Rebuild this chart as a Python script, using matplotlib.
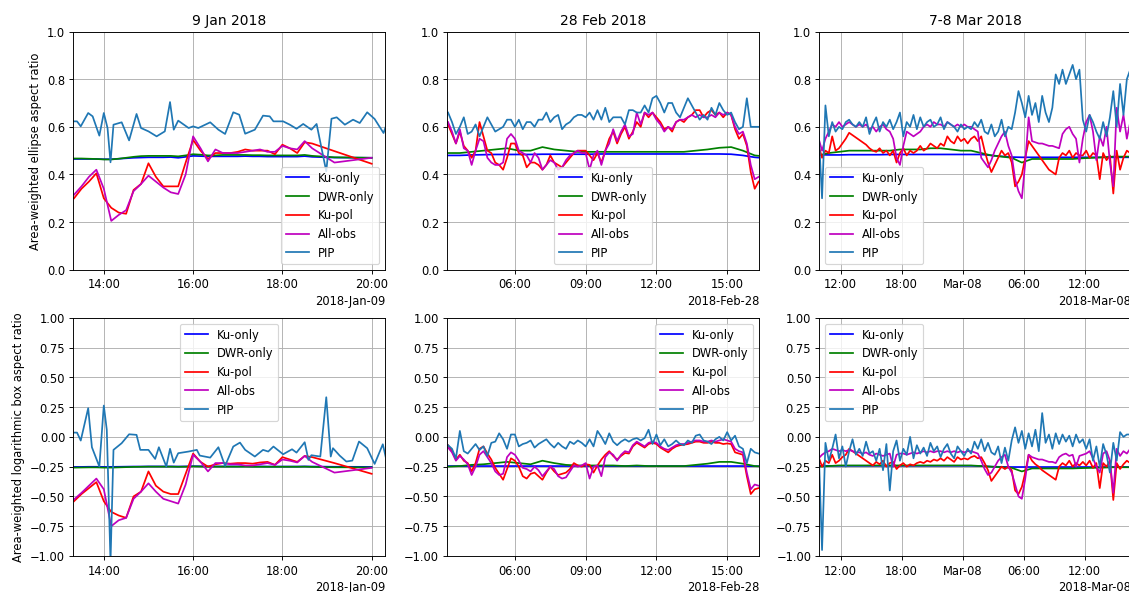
import matplotlib
matplotlib.use("Agg")
import matplotlib.pyplot as plt
import matplotlib.dates as mdates
import pandas as pd

# ---------------- 9 Jan 2018 ----------------
jan_radar_t = ["13:20", "13:30", "13:40", "13:50", "14:00", "14:10",
               "14:20", "14:30", "14:40", "14:50", "15:00", "15:10",
               "15:20", "15:30", "15:40", "15:50", "16:00", "16:10",
               "16:20", "16:30", "16:40", "16:50", "17:00", "17:10",
               "17:20", "17:30", "17:40", "17:50", "18:00", "18:10",
               "18:20", "18:30", "18:40",
               "19:10", "20:00"]
jan_ku_top = [0.465, 0.465, 0.465, 0.465, 0.464, 0.464,
              0.466, 0.468, 0.470, 0.471, 0.472, 0.472,
              0.472, 0.473, 0.470, 0.474, 0.478, 0.477,
              0.476, 0.476, 0.476, 0.476, 0.476, 0.477,
              0.476, 0.476, 0.475, 0.475, 0.475, 0.475,
              0.475, 0.477, 0.474,
              0.471, 0.470]
jan_dwr_top = [0.467, 0.467, 0.466, 0.465, 0.463, 0.463,
               0.466, 0.470, 0.474, 0.477, 0.478, 0.478,
               0.478, 0.478, 0.476, 0.480, 0.485, 0.483,
               0.480, 0.480, 0.482, 0.482, 0.482, 0.482,
               0.481, 0.481, 0.480, 0.480, 0.480, 0.480,
               0.480, 0.482, 0.478,
               0.472, 0.470]
jan_kupol_top = [0.30, 0.34, 0.37, 0.405, 0.30, 0.26,
                 0.24, 0.235, 0.335, 0.36, 0.447, 0.39,
                 0.35, 0.35, 0.35, 0.45, 0.545, 0.50,
                 0.465, 0.49, 0.49, 0.49, 0.495, 0.505,
                 0.50, 0.50, 0.50, 0.485, 0.525, 0.51,
                 0.49, 0.535, 0.53,
                 0.498, 0.445]
jan_all_top = [0.315, 0.35, 0.39, 0.42, 0.34, 0.205,
               0.23, 0.25, 0.33, 0.36, 0.395, 0.37,
               0.345, 0.325, 0.318, 0.40, 0.56, 0.51,
               0.455, 0.505, 0.49, 0.49, 0.49, 0.495,
               0.50, 0.505, 0.495, 0.495, 0.52, 0.51,
               0.505, 0.54, 0.51,
               0.45, 0.47]
jan_ku_bot = [-0.252, -0.252, -0.251, -0.251, -0.252, -0.252,
              -0.251, -0.250, -0.249, -0.249, -0.248, -0.248,
              -0.248, -0.248, -0.249, -0.248, -0.246, -0.247,
              -0.248, -0.248, -0.248, -0.248, -0.248, -0.247,
              -0.248, -0.248, -0.249, -0.249, -0.249, -0.249,
              -0.249, -0.248, -0.249,
              -0.251, -0.252]
jan_dwr_bot = [-0.258, -0.257, -0.256, -0.256, -0.258, -0.258,
               -0.256, -0.254, -0.252, -0.251, -0.250, -0.250,
               -0.250, -0.250, -0.251, -0.250, -0.248, -0.249,
               -0.250, -0.250, -0.250, -0.250, -0.250, -0.250,
               -0.251, -0.251, -0.251, -0.251, -0.251, -0.251,
               -0.251, -0.250, -0.252,
               -0.255, -0.256]
jan_kupol_bot = [-0.54, -0.48, -0.43, -0.38, -0.54, -0.63,
                 -0.66, -0.68, -0.50, -0.46, -0.29, -0.41,
                 -0.46, -0.48, -0.48, -0.31, -0.14, -0.21,
                 -0.25, -0.23, -0.22, -0.225, -0.22, -0.22,
                 -0.225, -0.215, -0.21, -0.235, -0.17, -0.19,
                 -0.21, -0.16, -0.17,
                 -0.22, -0.31]
jan_all_bot = [-0.525, -0.47, -0.41, -0.35, -0.44, -0.75,
               -0.70, -0.68, -0.52, -0.46, -0.39, -0.46,
               -0.52, -0.54, -0.56, -0.40, -0.15, -0.21,
               -0.29, -0.22, -0.22, -0.23, -0.23, -0.24,
               -0.24, -0.23, -0.22, -0.235, -0.19, -0.20,
               -0.215, -0.16, -0.21,
               -0.30, -0.26]

jan_pip_top_t = ["13:19", "13:24", "13:29", "13:39", "13:45", "13:54", "14:00",
                 "14:05", "14:09", "14:13", "14:24", "14:34", "14:44", "14:50",
                 "15:00", "15:11", "15:22", "15:29", "15:34", "15:40", "15:54",
                 "16:00", "16:07", "16:23", "16:34", "16:43", "16:54", "17:02",
                 "17:10", "17:23", "17:34", "17:43", "17:48", "18:01", "18:10",
                 "18:19", "18:28", "18:39", "18:46", "18:59", "19:06", "19:13",
                 "19:24", "19:35", "19:44", "19:54", "20:04", "20:16", "20:20"]
jan_pip_top = [0.623, 0.623, 0.602, 0.658, 0.644, 0.563, 0.658,
               0.595, 0.451, 0.609, 0.619, 0.543, 0.654, 0.595,
               0.581, 0.560, 0.581, 0.704, 0.588, 0.626, 0.595,
               0.602, 0.595, 0.619, 0.588, 0.570, 0.661, 0.651,
               0.571, 0.588, 0.647, 0.644, 0.623, 0.623, 0.609,
               0.592, 0.612, 0.588, 0.612, 0.413, 0.634, 0.640,
               0.609, 0.630, 0.616, 0.661, 0.633, 0.574, 0.610]
jan_pip_bot_t = ["13:19", "13:24", "13:29", "13:39", "13:44", "13:54", "14:00",
                 "14:04", "14:09", "14:13", "14:24", "14:34", "14:44", "14:49",
                 "15:00", "15:09", "15:14", "15:24", "15:29", "15:34", "15:40",
                 "15:54", "16:05", "16:09", "16:23", "16:34", "16:43", "16:54",
                 "17:03", "17:10", "17:23", "17:34", "17:41", "17:48", "18:01",
                 "18:13", "18:19", "18:30", "18:35", "18:39", "18:51", "18:59",
                 "19:05", "19:08", "19:17", "19:26", "19:34", "19:43", "19:54",
                 "20:04", "20:15", "20:20"]
jan_pip_bot = [0.036, 0.036, -0.031, 0.241, -0.087, -0.249, 0.263,
               0.059, -1.05, -0.109, -0.053, 0.022, 0.017, -0.109,
               -0.109, -0.185, -0.087, -0.249, -0.100, -0.216, -0.137,
               -0.123, -0.109, -0.157, -0.174, -0.087, -0.244, -0.081,
               -0.048, -0.109, -0.165, -0.109, -0.123, -0.081, -0.146,
               -0.104, -0.132, -0.045, -0.193, -0.154, -0.165, 0.333,
               -0.165, -0.095, -0.157, -0.207, -0.199, -0.039, -0.095,
               -0.227, -0.062, -0.200]

# ---------------- 28 Feb 2018 (10 min from 03:10) ----------------
feb_pip_top = [0.66, 0.62, 0.57, 0.60, 0.64, 0.57,
               0.58, 0.61, 0.56, 0.60, 0.64, 0.61,
               0.58, 0.59, 0.60, 0.63, 0.63, 0.60,
               0.63, 0.59, 0.62, 0.62, 0.60, 0.63,
               0.63, 0.66, 0.62, 0.64, 0.65, 0.59,
               0.61, 0.62, 0.64, 0.65, 0.65, 0.64,
               0.66, 0.63, 0.67, 0.63, 0.68, 0.62,
               0.64, 0.64, 0.64, 0.61, 0.67, 0.67,
               0.66, 0.66, 0.69, 0.66, 0.72, 0.73,
               0.70, 0.66, 0.70, 0.70, 0.66, 0.64,
               0.68, 0.72, 0.69, 0.66, 0.63, 0.65,
               0.63, 0.68, 0.65, 0.70, 0.67, 0.65,
               0.66, 0.62, 0.59, 0.60, 0.72, 0.60,
               0.60, 0.60]
feb_kupol_top = [0.61, 0.57, 0.53, 0.58, 0.52, 0.50,
                 0.47, 0.50, 0.62, 0.56, 0.50, 0.49,
                 0.45, 0.44, 0.42, 0.47, 0.53, 0.53,
                 0.49, 0.48, 0.43, 0.45, 0.45, 0.44,
                 0.42, 0.44, 0.48, 0.45, 0.44, 0.43,
                 0.45, 0.47, 0.49, 0.50, 0.50, 0.50,
                 0.48, 0.46, 0.49, 0.45, 0.50, 0.55,
                 0.58, 0.53, 0.57, 0.60, 0.55, 0.58,
                 0.62, 0.60, 0.66, 0.64, 0.66, 0.64,
                 0.62, 0.59, 0.60, 0.58, 0.62, 0.63,
                 0.62, 0.64, 0.65, 0.67, 0.67, 0.64,
                 0.66, 0.67, 0.65, 0.66, 0.64, 0.66,
                 0.65, 0.59, 0.55, 0.57, 0.52, 0.41,
                 0.34, 0.37]
feb_all_top = [0.62, 0.58, 0.53, 0.59, 0.51, 0.50,
               0.44, 0.50, 0.55, 0.54, 0.47, 0.45,
               0.44, 0.44, 0.45, 0.55, 0.57, 0.55,
               0.50, 0.49, 0.48, 0.45, 0.49, 0.47,
               0.42, 0.44, 0.46, 0.45, 0.42, 0.43,
               0.46, 0.48, 0.49, 0.50, 0.49, 0.49,
               0.42, 0.48, 0.50, 0.44, 0.50, 0.53,
               0.59, 0.54, 0.58, 0.61, 0.56, 0.57,
               0.66, 0.61, 0.66, 0.65, 0.66, 0.63,
               0.61, 0.58, 0.60, 0.59, 0.62, 0.63,
               0.63, 0.64, 0.65, 0.64, 0.65, 0.64,
               0.64, 0.65, 0.64, 0.66, 0.65, 0.66,
               0.65, 0.60, 0.57, 0.58, 0.53, 0.44,
               0.38, 0.39]
feb_pip_bot = [-0.07, -0.10, -0.18, 0.05, -0.12, -0.14,
               -0.10, -0.06, -0.11, -0.08, -0.16, -0.05,
               -0.04, 0.03, -0.02, -0.10, 0.02, 0.02,
               -0.08, -0.06, -0.05, -0.03, -0.09, -0.06,
               -0.04, -0.02, -0.06, -0.09, -0.05, -0.08,
               -0.10, -0.04, -0.06, -0.03, -0.05, -0.08,
               -0.02, -0.08, 0.05, 0.00, -0.06, 0.03,
               -0.04, -0.07, -0.04, -0.02, -0.04, -0.02,
               -0.01, -0.03, -0.01, 0.06, -0.06, 0.02,
               -0.07, -0.02, -0.08, -0.06, -0.03, -0.06,
               -0.07, -0.03, -0.05, 0.01, 0.02, -0.03,
               -0.04, -0.06, -0.02, 0.00, -0.03, 0.04,
               -0.03, 0.01, -0.08, -0.10, -0.22, -0.10,
               -0.13, -0.14]
feb_kupol_bot = [-0.07, -0.12, -0.19, -0.15, -0.20, -0.22,
                 -0.29, -0.22, -0.10, -0.08, -0.14, -0.19,
                 -0.26, -0.31, -0.36, -0.27, -0.18, -0.20,
                 -0.25, -0.33, -0.35, -0.31, -0.30, -0.33,
                 -0.36, -0.30, -0.25, -0.29, -0.32, -0.31,
                 -0.30, -0.27, -0.22, -0.24, -0.25, -0.23,
                 -0.235, -0.30, -0.24, -0.19, -0.15, -0.12,
                 -0.16, -0.19, -0.16, -0.135, -0.14, -0.08,
                 -0.05, -0.07, -0.09, -0.06, -0.05, -0.06,
                 -0.09, -0.11, -0.13, -0.10, -0.08, -0.07,
                 -0.065, -0.06, -0.05, -0.04, -0.04, -0.05,
                 -0.05, -0.04, -0.05, -0.05, -0.06, -0.055,
                 -0.06, -0.13, -0.14, -0.15, -0.33, -0.48,
                 -0.44, -0.43]
feb_all_bot = [-0.09, -0.13, -0.20, -0.16, -0.19, -0.23,
               -0.32, -0.25, -0.15, -0.12, -0.17, -0.22,
               -0.29, -0.32, -0.31, -0.17, -0.13, -0.15,
               -0.20, -0.26, -0.27, -0.29, -0.25, -0.28,
               -0.33, -0.29, -0.25, -0.27, -0.33, -0.35,
               -0.34, -0.29, -0.24, -0.25, -0.24, -0.22,
               -0.35, -0.25, -0.24, -0.33, -0.17, -0.13,
               -0.15, -0.20, -0.15, -0.12, -0.13, -0.07,
               -0.04, -0.06, -0.08, -0.05, -0.04, -0.05,
               -0.08, -0.10, -0.11, -0.09, -0.07, -0.06,
               -0.06, -0.05, -0.04, -0.03, -0.03, -0.04,
               -0.04, -0.03, -0.04, -0.03, -0.02, -0.03,
               -0.04, -0.10, -0.12, -0.13, -0.30, -0.44,
               -0.40, -0.41]
# 30 min from 03:10
feb_ku_top = [0.480, 0.480, 0.482, 0.483, 0.484, 0.484, 0.484, 0.484,
              0.485, 0.485, 0.485, 0.485, 0.485, 0.486, 0.486, 0.486,
              0.486, 0.486, 0.486, 0.486, 0.486, 0.486, 0.486, 0.486,
              0.485, 0.480, 0.472, 0.468]
feb_dwr_top = [0.490, 0.490, 0.495, 0.500, 0.505, 0.510, 0.500, 0.500,
               0.515, 0.505, 0.500, 0.495, 0.495, 0.495, 0.495, 0.495,
               0.495, 0.495, 0.495, 0.495, 0.495, 0.500, 0.505, 0.512,
               0.515, 0.500, 0.480, 0.475]
feb_ku_bot = [-0.245, -0.245, -0.245, -0.245, -0.245, -0.245, -0.245, -0.245,
              -0.245, -0.245, -0.245, -0.245, -0.245, -0.245, -0.245, -0.245,
              -0.245, -0.245, -0.245, -0.245, -0.245, -0.245, -0.245, -0.245,
              -0.245, -0.245, -0.246, -0.247]
feb_dwr_bot = [-0.250, -0.245, -0.235, -0.230, -0.220, -0.210, -0.220, -0.230,
               -0.200, -0.220, -0.235, -0.240, -0.240, -0.240, -0.240, -0.245,
               -0.240, -0.245, -0.245, -0.245, -0.245, -0.235, -0.225, -0.210,
               -0.210, -0.225, -0.245, -0.250]

# ---------------- 7-8 Mar 2018 (20 min from 09:50 on 7 Mar) ----------------
mar_pip_top = [0.58, 0.30, 0.69,  0.56, 0.62, 0.58,  0.60, 0.59, 0.62,
               0.63, 0.61, 0.60,  0.62, 0.60, 0.64,  0.57, 0.61, 0.64,
               0.58, 0.62, 0.60,  0.63, 0.59, 0.62,  0.66, 0.56, 0.62,
               0.60, 0.65, 0.59,  0.64, 0.60, 0.62,  0.63, 0.60, 0.61,
               0.64, 0.59, 0.62,  0.61, 0.60, 0.58,  0.61, 0.59, 0.60,
               0.59, 0.62, 0.60,  0.63, 0.58, 0.57,  0.61, 0.56, 0.58,
               0.63, 0.56, 0.60,  0.59, 0.66, 0.75,  0.70, 0.64, 0.73,
               0.65, 0.70, 0.62,  0.73, 0.66, 0.62,  0.68, 0.82, 0.78,
               0.84, 0.78, 0.82,  0.86, 0.80, 0.84,  0.63, 0.58, 0.65,
               0.62, 0.58, 0.55,  0.62, 0.56, 0.64,  0.75, 0.60, 0.78,
               0.65, 0.80, 0.84]
mar_kupol_top = [0.52, 0.47, 0.50,  0.49, 0.56, 0.50,  0.51, 0.53, 0.55,
                 0.575, 0.565, 0.555,  0.545, 0.535, 0.525,  0.51, 0.50, 0.495,
                 0.51, 0.49, 0.50,  0.48, 0.50, 0.45,  0.49, 0.51, 0.48,
                 0.50, 0.49, 0.50,  0.52, 0.50, 0.51,  0.53, 0.52, 0.51,
                 0.53, 0.52, 0.56,  0.54, 0.53, 0.56,  0.54, 0.55, 0.53,
                 0.55, 0.56, 0.54,  0.56, 0.50, 0.45,  0.41, 0.44, 0.47,
                 0.50, 0.48, 0.49,  0.45, 0.35, 0.37,  0.40, 0.47, 0.54,
                 0.52, 0.50, 0.48,  0.46, 0.44, 0.42,  0.41, 0.40, 0.47,
                 0.49, 0.48, 0.50,  0.47, 0.49, 0.48,  0.48, 0.50, 0.47,
                 0.49, 0.48, 0.38,  0.49, 0.46, 0.48,  0.32, 0.50, 0.42,
                 0.47, 0.50, 0.49]
mar_all_top = [0.55, 0.50, 0.55,  0.58, 0.61, 0.60,  0.62, 0.60, 0.61,
               0.62, 0.61, 0.60,  0.61, 0.60, 0.61,  0.59, 0.60, 0.58,
               0.60, 0.61, 0.59,  0.58, 0.55, 0.47,  0.44, 0.52, 0.58,
               0.57, 0.56, 0.57,  0.58, 0.60, 0.61,  0.60, 0.62, 0.61,
               0.61, 0.60, 0.62,  0.61, 0.60, 0.61,  0.60, 0.61, 0.60,
               0.60, 0.59, 0.58,  0.47, 0.45, 0.43,  0.46, 0.50, 0.53,
               0.56, 0.58, 0.52,  0.48, 0.38, 0.33,  0.30, 0.45, 0.64,
               0.54, 0.535, 0.53,  0.53, 0.525, 0.52,  0.52, 0.515, 0.51,
               0.57, 0.59, 0.60,  0.57, 0.55, 0.45,  0.55, 0.62, 0.65,
               0.58, 0.46, 0.56,  0.52, 0.60, 0.45,  0.35, 0.68, 0.58,
               0.65, 0.55, 0.62]
mar_pip_bot = [-0.10, -0.95, -0.05,  -0.20, -0.10, 0.02,  -0.18, -0.08, -0.25,
               -0.12, -0.02, -0.15,  -0.10, -0.16, -0.04,  -0.14, -0.12, -0.20,
               -0.10, -0.28, -0.06,  -0.45, -0.12, -0.03,  -0.20, -0.10, -0.15,
               0.00, -0.18, -0.07,  -0.14, -0.09, -0.16,  -0.05, -0.12, -0.08,
               -0.17, -0.10, -0.06,  -0.14, -0.18, -0.08,  -0.12, -0.16, -0.10,
               -0.14, -0.04, -0.10,  -0.02, -0.12, -0.05,  -0.13, -0.15, -0.08,
               -0.22, -0.09, -0.20,  -0.03, 0.08, -0.05,  0.05, -0.10, 0.03,
               -0.08, 0.06, -0.12,  0.20, -0.05, 0.02,  -0.10, 0.03, -0.06,
               0.02, -0.04, 0.01,  -0.08, 0.02, -0.05,  -0.02, -0.10, -0.02,
               -0.20, -0.08, -0.25,  -0.06, -0.15, -0.30,  -0.05, -0.20, 0.04,
               0.00, 0.02, 0.02]
mar_kupol_bot = [-0.17, -0.25, -0.20,  -0.22, -0.15, -0.22,  -0.20, -0.17, -0.15,
                 -0.10, -0.12, -0.14,  -0.16, -0.18, -0.20,  -0.22, -0.24, -0.21,
                 -0.23, -0.20, -0.25,  -0.22, -0.21, -0.27,  -0.24, -0.22, -0.25,
                 -0.23, -0.24, -0.22,  -0.21, -0.22, -0.20,  -0.21, -0.19, -0.20,
                 -0.18, -0.20, -0.17,  -0.19, -0.21, -0.17,  -0.19, -0.18, -0.19,
                 -0.17, -0.16, -0.18,  -0.17, -0.22, -0.28,  -0.37, -0.33, -0.29,
                 -0.25, -0.27, -0.25,  -0.28, -0.45, -0.48,  -0.42, -0.30, -0.15,
                 -0.20, -0.23, -0.25,  -0.28, -0.30, -0.32,  -0.34, -0.36, -0.25,
                 -0.22, -0.24, -0.20,  -0.25, -0.22, -0.24,  -0.21, -0.24, -0.20,
                 -0.26, -0.22, -0.43,  -0.22, -0.25, -0.20,  -0.53, -0.22, -0.27,
                 -0.23, -0.20, -0.22]
mar_all_bot = [-0.18, -0.15, -0.13,  -0.12, -0.10, -0.11,  -0.12, -0.11, -0.12,
               -0.11, -0.12, -0.13,  -0.13, -0.14, -0.13,  -0.15, -0.16, -0.14,
               -0.15, -0.16, -0.15,  -0.14, -0.25, -0.15,  -0.14, -0.14, -0.15,
               -0.14, -0.13, -0.14,  -0.13, -0.12, -0.13,  -0.12, -0.13, -0.12,
               -0.12, -0.13, -0.12,  -0.13, -0.12, -0.13,  -0.12, -0.13, -0.12,
               -0.12, -0.13, -0.14,  -0.20, -0.27, -0.32,  -0.30, -0.25, -0.20,
               -0.17, -0.15, -0.25,  -0.30, -0.40, -0.50,  -0.52, -0.35, -0.15,
               -0.17, -0.18, -0.19,  -0.19, -0.20, -0.21,  -0.21, -0.22, -0.17,
               -0.15, -0.14, -0.16,  -0.15, -0.25, -0.16,  -0.15, -0.14, -0.12,
               -0.18, -0.25, -0.30,  -0.14, -0.12, -0.20,  -0.47, -0.10, -0.16,
               -0.12, -0.14, -0.10]
# hourly from 09:50 on 7 Mar
mar_ku_top = [0.483, 0.482, 0.482, 0.483, 0.483, 0.483, 0.483, 0.484,
              0.484, 0.484, 0.484, 0.484, 0.484, 0.484, 0.484,
              0.484, 0.484, 0.480, 0.476, 0.473, 0.472, 0.472, 0.472,
              0.472, 0.472, 0.472, 0.472, 0.472, 0.472, 0.472, 0.472, 0.472]
mar_dwr_top = [0.480, 0.490, 0.495, 0.500, 0.500, 0.500, 0.500, 0.500,
               0.505, 0.505, 0.505, 0.510, 0.510, 0.505, 0.500,
               0.500, 0.490, 0.480, 0.475, 0.470, 0.450, 0.465, 0.465,
               0.465, 0.465, 0.465, 0.468, 0.470, 0.472, 0.475, 0.475, 0.475]
mar_ku_bot = [-0.243, -0.243, -0.243, -0.243, -0.243, -0.243, -0.243, -0.243,
              -0.243, -0.243, -0.243, -0.243, -0.243, -0.243, -0.243,
              -0.243, -0.245, -0.250, -0.252, -0.253, -0.253, -0.253, -0.253,
              -0.253, -0.253, -0.253, -0.253, -0.253, -0.253, -0.253, -0.253, -0.253]
mar_dwr_bot = [-0.250, -0.245, -0.240, -0.240, -0.240, -0.240, -0.240, -0.240,
               -0.240, -0.240, -0.240, -0.240, -0.240, -0.240, -0.240,
               -0.240, -0.245, -0.250, -0.255, -0.260, -0.290, -0.265, -0.265,
               -0.265, -0.265, -0.265, -0.262, -0.260, -0.258, -0.255, -0.255, -0.255]


def clock(day, times):
    return pd.to_datetime([day + " " + t for t in times])


jan_rt = clock("2018-01-09", jan_radar_t)
jan_pt_top = clock("2018-01-09", jan_pip_top_t)
jan_pt_bot = clock("2018-01-09", jan_pip_bot_t)
feb_t = pd.date_range("2018-02-28 03:10", periods=len(feb_pip_top), freq="10min")
feb_t30 = pd.date_range("2018-02-28 03:10", periods=len(feb_ku_top), freq="30min")
mar_t = pd.date_range("2018-03-07 09:50", periods=len(mar_pip_top), freq="20min")
mar_t60 = pd.date_range("2018-03-07 09:50", periods=len(mar_ku_top), freq="60min")

panels = [
    # title, xlim, tick step (h), top series, bottom series, legend locs
    ("9 Jan 2018", ("2018-01-09 13:19", "2018-01-09 20:18"), 2,
     [(jan_rt, jan_ku_top), (jan_rt, jan_dwr_top), (jan_rt, jan_kupol_top),
      (jan_rt, jan_all_top), (jan_pt_top, jan_pip_top)],
     [(jan_rt, jan_ku_bot), (jan_rt, jan_dwr_bot), (jan_rt, jan_kupol_bot),
      (jan_rt, jan_all_bot), (jan_pt_bot, jan_pip_bot)],
     "lower right", "upper center"),
    ("28 Feb 2018", ("2018-02-28 03:08", "2018-02-28 16:21"), 3,
     [(feb_t30, feb_ku_top), (feb_t30, feb_dwr_top), (feb_t, feb_kupol_top),
      (feb_t, feb_all_top), (feb_t, feb_pip_top)],
     [(feb_t30, feb_ku_bot), (feb_t30, feb_dwr_bot), (feb_t, feb_kupol_bot),
      (feb_t, feb_all_bot), (feb_t, feb_pip_bot)],
     "lower center", "upper right"),
    ("7-8 Mar 2018", ("2018-03-07 09:54", "2018-03-08 16:35"), 6,
     [(mar_t60, mar_ku_top), (mar_t60, mar_dwr_top), (mar_t, mar_kupol_top),
      (mar_t, mar_all_top), (mar_t, mar_pip_top)],
     [(mar_t60, mar_ku_bot), (mar_t60, mar_dwr_bot), (mar_t, mar_kupol_bot),
      (mar_t, mar_all_bot), (mar_t, mar_pip_bot)],
     "lower left", "upper left"),
]

names = ["Ku-only", "DWR-only", "Ku-pol", "All-obs", "PIP"]
colors = ["b", "g", "r", "m", "tab:blue"]

# the original looks like a default-style figure drawn at a lower dpi
fig = plt.figure(figsize=(1129.5 / 83, 592.5 / 83), dpi=83)
lefts = [0.0649, 0.3960, 0.7254]
w = 0.276

for i, (title, xl, step, top, bot, loc_top, loc_bot) in enumerate(panels):
    ax1 = fig.add_axes([lefts[i], 0.5439, w, 0.402])
    ax2 = fig.add_axes([lefts[i], 0.0608, w, 0.402])
    for ax, series, loc in ((ax1, top, loc_top), (ax2, bot, loc_bot)):
        for (t, v), name, c in zip(series, names, colors):
            ax.plot(t, v, color=c, label=name)
        ax.set_xlim(pd.Timestamp(xl[0]), pd.Timestamp(xl[1]))
        locator = mdates.HourLocator(byhour=range(0, 24, step))
        ax.xaxis.set_major_locator(locator)
        ax.xaxis.set_major_formatter(mdates.ConciseDateFormatter(locator))
        ax.grid(True)
        ax.legend(loc=loc)
    ax1.set_ylim(0, 1)
    ax2.set_ylim(-1, 1)
    ax1.set_title(title)
    if i == 0:
        ax1.set_ylabel("Area-weighted ellipse aspect ratio")
        ax2.set_ylabel("Area-weighted logarithmic box aspect ratio")

fig.savefig("out.png", dpi=83)
